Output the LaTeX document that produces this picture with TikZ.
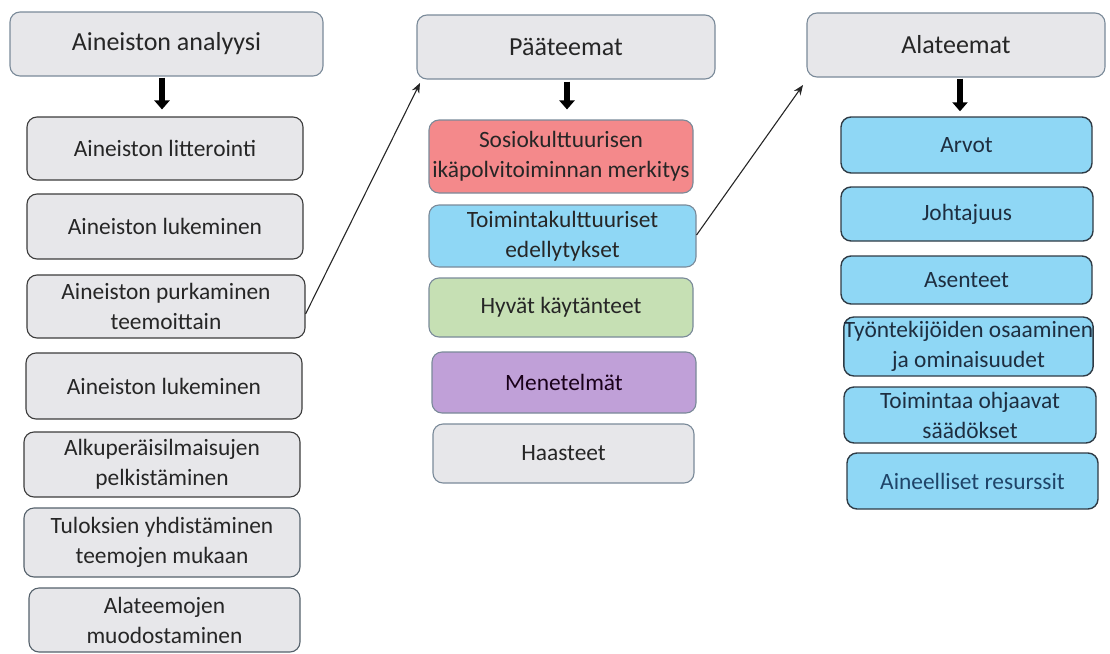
\documentclass[tikz,border=0pt]{standalone}
\usepackage{fontspec}
\setmainfont{Carlito}
\usetikzlibrary{arrows.meta,calc}
\definecolor{boxgray}{HTML}{E7E7EA}
\definecolor{edgeblue}{HTML}{7A8A99}
\definecolor{edgedark}{HTML}{3C3C3C}
\definecolor{redfill}{HTML}{F4898B}
\definecolor{bluefill}{HTML}{8FD7F5}
\definecolor{greenfill}{HTML}{C6E0B4}
\definecolor{purplefill}{HTML}{C0A0D8}
\definecolor{navytext}{HTML}{1E2E40}
\definecolor{resourcetext}{HTML}{1F4468}
\definecolor{rightedge}{HTML}{2F3B45}
\tikzset{
  basebox/.style={draw, rounded corners=10pt, align=center, inner sep=0pt, line width=1.1pt},
  titlebox/.style={basebox, fill=boxgray, draw=edgeblue, font=\fontsize{26}{31}\selectfont, text=black!85},
  leftbox/.style={basebox, fill=boxgray, draw=edgedark, font=\fontsize{23.4}{30}\selectfont, text=black!85},
  midbox/.style={basebox, draw=edgeblue, font=\fontsize{23.4}{30}\selectfont, text=black!85},
  rightbox/.style={basebox, fill=bluefill, draw=rightedge, line width=1.4pt, font=\fontsize{23.4}{30}\selectfont, text=navytext},
  bigarrow/.style={line width=6pt, -{Triangle[length=9pt,width=15pt]}, black},
  thinarrow/.style={line width=1.1pt, -{Stealth[length=10pt,width=8pt]}, black!85},
}
\begin{document}
\begin{tikzpicture}[x=1pt,y=-1pt]
\useasboundingbox (0,0) rectangle (1110,653);
% left column
\node[titlebox, minimum width=313, minimum height=64] (t1) at (166.5,44) {Aineiston analyysi};
\node[leftbox, minimum width=276, minimum height=63] (l1) at (165,148.5) {Aineiston litterointi};
\node[leftbox, minimum width=276, minimum height=65] (l2) at (165,226.5) {Aineiston lukeminen};
\node[leftbox, minimum width=278, minimum height=63] (l3) at (166,306.5) {Aineiston purkaminen\\teemoittain};
\node[leftbox, minimum width=276, minimum height=66] (l4) at (164,386) {Aineiston lukeminen};
\node[leftbox, minimum width=276, minimum height=65] (l5) at (162,464.5) {Alkuperäisilmaisujen\\pelkistäminen};
\node[leftbox, draw=edgeblue!70!black, minimum width=276, minimum height=69] (l6) at (162,542.5) {Tuloksien yhdistäminen\\teemojen mukaan};
\node[leftbox, draw=edgeblue!70!black, minimum width=271, minimum height=64] (l7) at (164.5,620) {Alateemojen\\muodostaminen};
% middle column
\node[titlebox, minimum width=298, minimum height=64] (t2) at (566,47) {Pääteemat};
\node[midbox, fill=redfill, minimum width=264, minimum height=73] (m1) at (561,156.5) {Sosiokulttuurisen\\ikäpolvitoiminnan merkitys};
\node[midbox, fill=bluefill, minimum width=267, minimum height=62] (m2) at (562.5,236) {Toimintakulttuuriset\\edellytykset};
\node[midbox, fill=greenfill, minimum width=264, minimum height=59] (m3) at (561,307.5) {Hyvät käytänteet};
\node[midbox, fill=purplefill, minimum width=264, minimum height=61, text=black!80!violet] (m4) at (564,382.5) {Menetelmät};
\node[midbox, fill=boxgray, minimum width=261, minimum height=59] (m5) at (563.5,453.5) {Haasteet};
% right column
\node[titlebox, minimum width=298, minimum height=64] (t3) at (956,45) {Alateemat};
\node[rightbox, minimum width=251, minimum height=56] (r1) at (966.5,145) {Arvot};
\node[rightbox, minimum width=252, minimum height=54] (r2) at (967,214) {Johtajuus};
\node[rightbox, minimum width=251, minimum height=48] (r3) at (966.5,280) {Asenteet};
\node[rightbox, minimum width=249, minimum height=59] (r4) at (968.5,346.5) {Työntekijöiden osaaminen\\ja ominaisuudet};
\node[rightbox, minimum width=252, minimum height=56] (r5) at (970,415) {Toimintaa ohjaavat\\säädökset};
\node[rightbox, minimum width=251, minimum height=56, text=resourcetext] (r6) at (972.5,481) {Aineelliset resurssit};
% thick arrows
\draw[bigarrow, shorten <=1pt, shorten >=7pt] ([xshift=-4.5]t1.south) -- ([xshift=-4.5]t1.south |- l1.north);
\draw[bigarrow, shorten <=2pt, shorten >=10pt] ([xshift=1]t2.south) -- ([xshift=1]t2.south |- m1.north);
\draw[bigarrow, shorten <=1pt, shorten >=5pt] ([xshift=4]t3.south) -- ([xshift=4]t3.south |- r1.north);
% thin arrows
\coordinate (p1) at (420,83);
\coordinate (p2) at (803,85);
\draw[thinarrow] ([yshift=-7.5]l3.east) -- (p1);
\draw[thinarrow] ([yshift=1]m2.east) -- (p2);
\end{tikzpicture}
\end{document}
